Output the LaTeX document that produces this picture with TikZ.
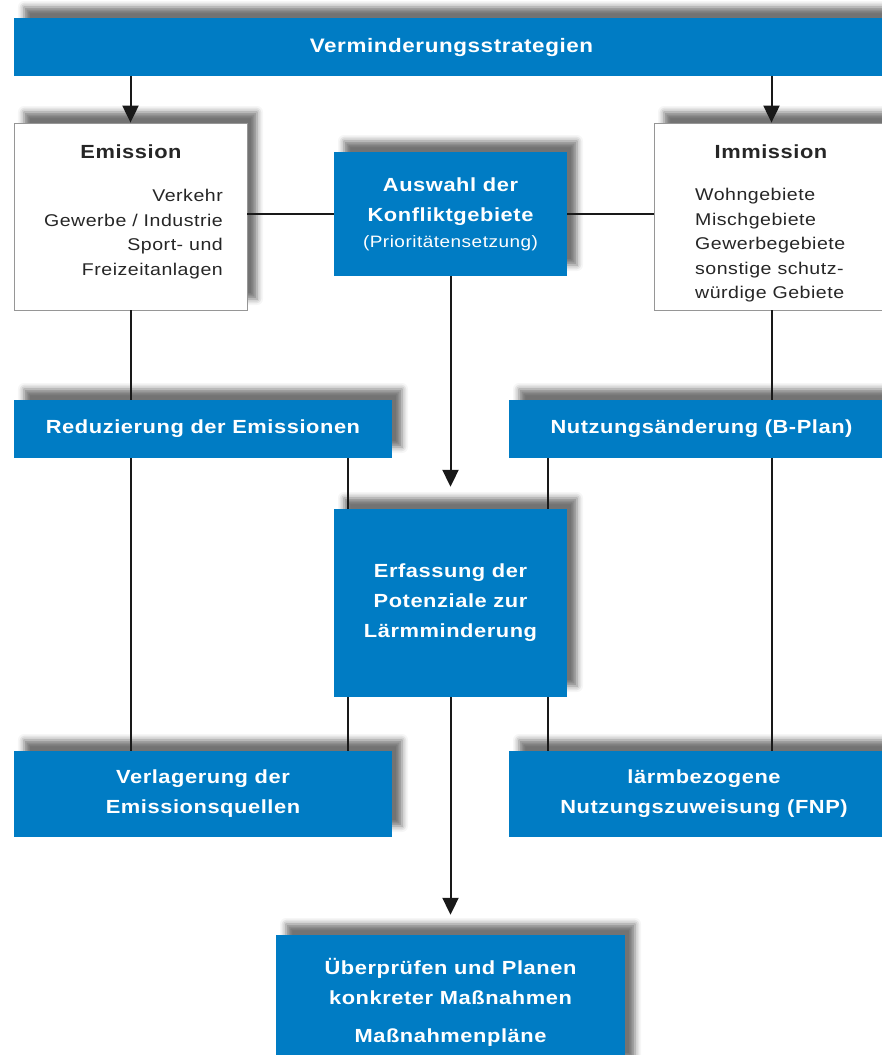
\documentclass[tikz,border=0pt]{standalone}
\usepackage{fontspec}
\setmainfont{Liberation Sans}
\newfontfamily\boxfont[FakeStretch=1.15, LetterSpace=3]{Liberation Sans}
\usetikzlibrary{arrows.meta,shadows.blur}
\definecolor{planblue}{RGB}{0,124,196}
\definecolor{framegray}{RGB}{150,150,150}
\tikzset{
  boxshadow/.style={blur shadow={shadow xshift=10pt, shadow yshift=11pt,
      shadow blur radius=6pt, shadow opacity=55}},
  bluebox/.style={fill=planblue, text=white, inner sep=0pt, align=center, boxshadow,
      font=\boxfont\bfseries\fontsize{19}{30}\selectfont},
  whitebox/.style={fill=white, draw=framegray, line width=0.8pt, inner sep=0pt, boxshadow},
  titletext/.style={inner sep=0pt, text=black!85, font=\boxfont\bfseries\fontsize{19}{30}\selectfont},
  listtext/.style={inner sep=0pt, text=black!85, font=\boxfont\fontsize{17}{24.5}\selectfont},
  conn/.style={line width=2pt, black!90},
  arr/.style={conn, -{Triangle[width=16pt,length=17pt]}},
}
\begin{document}
\begin{tikzpicture}[x=1pt,y=-1pt]
    \useasboundingbox (0,0) rectangle (881,1055);

    % Top bar
    \node[bluebox, minimum width=875pt, minimum height=58pt,
          font=\boxfont\bfseries\fontsize{19.5}{30}\selectfont] (top) at (451.5,47) {Verminderungsstrategien};

    % First row
    \node[whitebox, minimum width=233pt, minimum height=187pt] (emis) at (130.5,216.5) {};
    \node[titletext] (emistitle) at (131,152) {Emission};
    \node[listtext, align=right, anchor=north east] (emislist) at (223,189)
        {Verkehr\\Gewerbe / Industrie\\Sport- und\\Freizeitanlagen};

    \node[bluebox, minimum width=233pt, minimum height=124pt] (ausw) at (450.5,214)
        {Auswahl der\\Konfliktgebiete\\[-4pt]{\mdseries\fontsize{16.5}{24}\selectfont(Prioritätensetzung)}};

    \node[whitebox, minimum width=235pt, minimum height=187pt] (immi) at (771.5,216.5) {};
    \node[titletext] (immititle) at (771,152) {Immission};
    \node[listtext, align=left, anchor=north west] (immilist) at (695,188)
        {Wohngebiete\\Mischgebiete\\Gewerbegebiete\\sonstige schutz-\\würdige Gebiete};

    % Second row
    \node[bluebox, minimum width=378pt, minimum height=58pt] (redu) at (203,429) {Reduzierung der Emissionen};
    \node[bluebox, minimum width=385pt, minimum height=58pt] (nutz) at (701.5,429) {Nutzungsänderung (B-Plan)};

    % Centre
    \node[bluebox, minimum width=233pt, minimum height=188pt] (erfa) at (450.5,603)
        {Erfassung der\\Potenziale zur\\Lärmminderung};

    % Third row
    \node[bluebox, minimum width=378pt, minimum height=86pt] (verl) at (203,794)
        {Verlagerung der\\Emissionsquellen};
    \node[bluebox, minimum width=390pt, minimum height=86pt] (laerm) at (704,794)
        {lärmbezogene\\Nutzungszuweisung (FNP)};

    % Bottom
    \node[bluebox, minimum width=349pt, minimum height=135pt] (plan) at (450.5,1002.5)
        {Überprüfen und Planen\\konkreter Maßnahmen\\[8pt]Maßnahmenpläne};

    % Connectors
    \draw[arr] (top.south -| emis.north) -- (emis.north);
    \draw[arr] (top.south -| immi.north) -- (immi.north);
    \draw[conn] (emis.east |- ausw.west) -- (ausw.west);
    \draw[conn] (ausw.east) -- (immi.west |- ausw.east);
    \draw[conn] (emis.south) -- (emis.south |- redu.north);
    \draw[conn] (immi.south) -- (immi.south |- nutz.north);
    \draw[arr] (ausw.south) -- ([yshift=22pt]erfa.north);
    \draw[conn] (redu.south -| emis.south) -- (verl.north -| emis.south);
    \draw[conn] (nutz.south -| immi.south) -- (laerm.north -| immi.south);

    \coordinate (erfl) at ([xshift=14pt]erfa.north west);
    \coordinate (erfr) at ([xshift=-19pt]erfa.north east);
    \draw[conn] (redu.south -| erfl) -- (erfl);
    \draw[conn] (nutz.south -| erfr) -- (erfr);
    \draw[conn] (erfa.south -| erfl) -- (verl.north -| erfl);
    \draw[conn] (erfa.south -| erfr) -- (laerm.north -| erfr);
    \draw[arr] (erfa.south) -- ([yshift=20pt]plan.north);

\end{tikzpicture}
\end{document}
